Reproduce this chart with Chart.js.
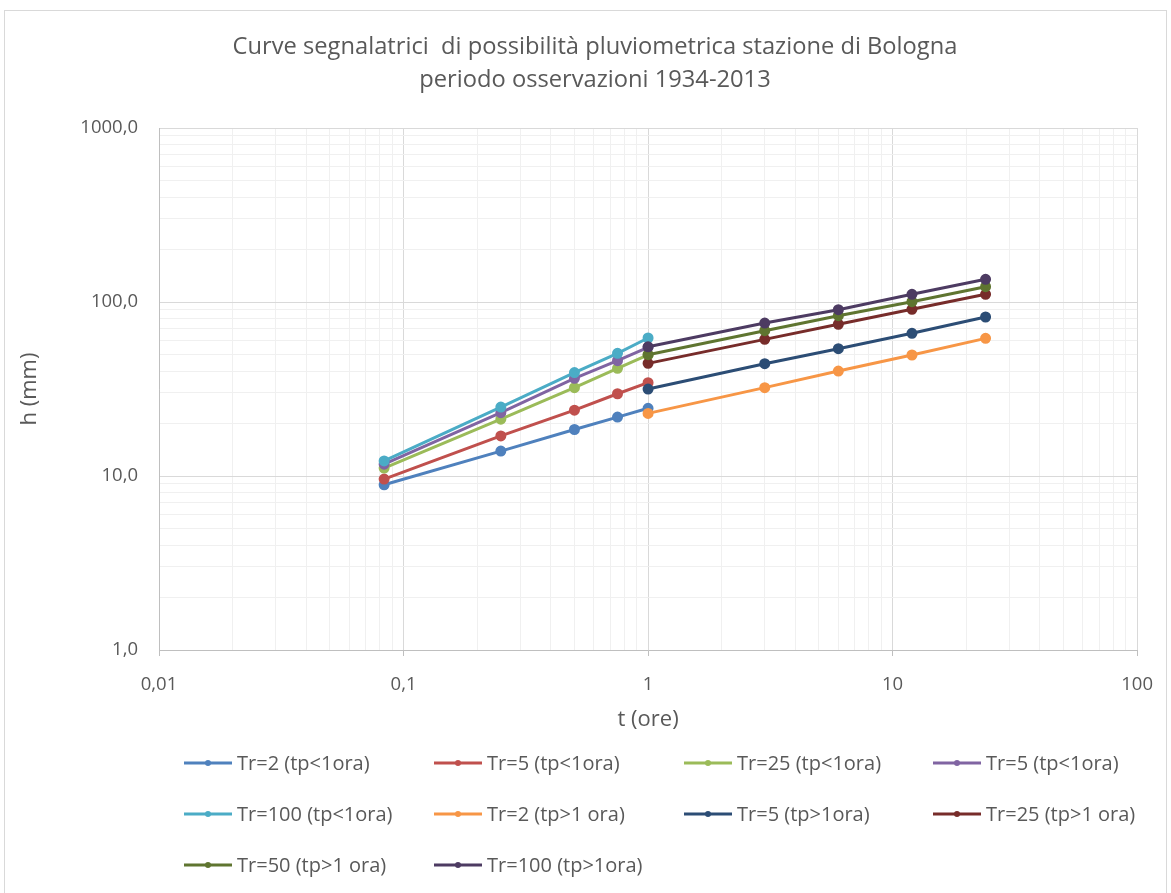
<!DOCTYPE html>
<html>
<head>
<meta charset="utf-8">
<script src="https://cdn.jsdelivr.net/npm/chart.js@4/dist/chart.umd.min.js"></script>
<style>
  html, body { margin: 0; padding: 0; background: #fff; }
  #wrap { width: 1171px; height: 893px; }
</style>
</head>
<body>
<div id="wrap"><canvas id="idfChart" width="1171" height="893"></canvas></div>
<script>
// durations (hours)
const durShort = [0.0833, 0.25, 0.5, 0.75, 1];
const durLong = [1, 3, 6, 12, 24];

// rainfall depth h (mm), tp < 1 ora
const h2Short = [8.9, 13.9, 18.5, 21.8, 24.5];
const h5Short = [9.6, 17.0, 23.9, 29.7, 34.4];
const h25Short = [11.1, 21.2, 32.2, 41.6, 49.6];
const h50Short = [11.7, 23.1, 36.4, 46.0, 54.9];
const h100Short = [12.2, 24.9, 39.3, 50.7, 62.1];

// rainfall depth h (mm), tp > 1 ora
const h2Long = [22.9, 32.2, 40.1, 49.6, 61.8];
const h5Long = [31.6, 44.2, 53.9, 66.1, 82.0];
const h25Long = [44.4, 61.0, 74.5, 90.8, 110.7];
const h50Long = [49.8, 68.4, 83.4, 100.4, 122.5];
const h100Long = [55.3, 75.7, 90.3, 110.7, 135.0];

const seriesLabels = [
    "Tr=2 (tp<1ora)", "Tr=5 (tp<1ora)", "Tr=25 (tp<1ora)", "Tr=5 (tp<1ora)",
    "Tr=100 (tp<1ora)", "Tr=2 (tp>1 ora)", "Tr=5 (tp>1ora)", "Tr=25 (tp>1 ora)",
    "Tr=50 (tp>1 ora)", "Tr=100 (tp>1ora)",
];
const seriesValues = [h2Short, h5Short, h25Short, h50Short, h100Short, h2Long, h5Long, h25Long, h50Long, h100Long];
const seriesDurations = [durShort, durShort, durShort, durShort, durShort, durLong, durLong, durLong, durLong, durLong];
const seriesColors = ["#4f81bd", "#c0504d", "#9bbb59", "#8064a2", "#4bacc6", "#f79646", "#2c4d75", "#772c2a", "#5f7530", "#4d3b62"];

const xTicks = [0.01, 0.1, 1, 10, 100];
const yTicks = [1, 10, 100, 1000];

const FONT = "'Open Sans', 'Noto Sans', sans-serif";
const TEXT = "#595959";

const isDecade = (v) => Math.abs(Math.log10(v) - Math.round(Math.log10(v))) < 1e-6;
const keepIntegerMantissa = (scale) => {
    scale.ticks = scale.ticks.filter((t) => {
        const m = t.value / Math.pow(10, Math.floor(Math.log10(t.value) + 1e-9));
        return Math.abs(m - Math.round(m)) < 1e-6;
    });
};

const datasets = seriesValues.map((vals, i) => ({
    label: seriesLabels[i],
    data: vals.map((h, j) => ({ x: seriesDurations[i][j], y: h })),
    borderColor: seriesColors[i],
    backgroundColor: seriesColors[i],
    borderWidth: 3,
    pointRadius: 4,
    pointHoverRadius: 4,
    order: seriesValues.length - i,
}));

// white background + light frame around the chart
const frame = {
    id: "frame",
    beforeDraw(chart) {
        const c = chart.ctx;
        c.save();
        c.fillStyle = "#fff";
        c.fillRect(0, 0, chart.width, chart.height);
        c.strokeStyle = "#d9d9d9";
        c.lineWidth = 1;
        c.strokeRect(4.5, 10.5, 1162, 900);
        c.restore();
    },
};

// Excel-like grid legend
const gridLegend = {
    id: "gridLegend",
    afterDraw(chart) {
        const c = chart.ctx;
        const cols = [184, 434, 684, 933];
        const rows = [763, 814, 865];
        c.save();
        c.font = "20px " + FONT;
        c.textBaseline = "middle";
        chart.data.datasets.forEach((ds, i) => {
            const x = cols[i % 4];
            const y = rows[Math.floor(i / 4)];
            c.strokeStyle = ds.borderColor;
            c.lineWidth = 3;
            c.beginPath();
            c.moveTo(x, y);
            c.lineTo(x + 48, y);
            c.stroke();
            c.fillStyle = ds.borderColor;
            c.beginPath();
            c.arc(x + 24, y, 3, 0, Math.PI * 2);
            c.fill();
            c.fillStyle = TEXT;
            c.fillText(ds.label, x + 53, y + 1);
        });
        c.restore();
    },
};

new Chart(document.getElementById("idfChart"), {
    type: "line",
    data: { datasets },
    plugins: [frame, gridLegend],
    options: {
        responsive: false,
        animation: false,
        layout: { padding: { left: 19, right: 0, top: 0, bottom: 163 } },
        plugins: {
            legend: { display: false },
            tooltip: { enabled: false },
            title: {
                display: true,
                text: [
                    "Curve segnalatrici  di possibilità pluviometrica stazione di Bologna",
                    "periodo osservazioni 1934-2013",
                ],
                color: TEXT,
                font: { family: FONT, size: 23.7, weight: "normal", lineHeight: 33 / 23.7 },
                padding: { top: 31, bottom: 31 },
            },
        },
        scales: {
            x: {
                type: "logarithmic",
                position: "bottom",
                min: xTicks[0],
                max: xTicks[xTicks.length - 1],
                afterBuildTicks: keepIntegerMantissa,
                afterFit: (s) => { s.height = 80; },
                border: { display: true, color: "#bfbfbf", width: 1 },
                grid: {
                    color: (ctx) => (isDecade(ctx.tick.value) ? "#d9d9d9" : "#f0f0f0"),
                    tickColor: (ctx) => (isDecade(ctx.tick.value) ? "#bfbfbf" : "rgba(0,0,0,0)"),
                    tickLength: 6,
                },
                ticks: {
                    autoSkip: false,
                    maxRotation: 0,
                    padding: 18,
                    color: TEXT,
                    font: { family: FONT, size: 18.5 },
                    callback: (v) => (xTicks.some((t) => Math.abs(t - v) < 1e-9) ? String(v).replace(".", ",") : ""),
                },
                title: {
                    display: true,
                    text: "t (ore)",
                    color: TEXT,
                    font: { family: FONT, size: 22 },
                    padding: { top: 0, bottom: -3 },
                },
            },
            y: {
                type: "logarithmic",
                min: yTicks[0],
                max: yTicks[yTicks.length - 1],
                afterBuildTicks: keepIntegerMantissa,
                afterFit: (s) => { s.width = 140; },
                border: { display: true, color: "#bfbfbf", width: 1 },
                grid: {
                    color: (ctx) => (isDecade(ctx.tick.value) ? "#d9d9d9" : "#f0f0f0"),
                    drawTicks: false,
                },
                ticks: {
                    autoSkip: false,
                    padding: 21,
                    color: TEXT,
                    font: { family: FONT, size: 18.5 },
                    callback: (v) => (yTicks.some((t) => Math.abs(t - v) < 1e-9) ? v.toFixed(1).replace(".", ",") : ""),
                },
                title: {
                    display: true,
                    text: "h (mm)",
                    color: TEXT,
                    font: { family: FONT, size: 22 },
                    padding: { top: -2, bottom: 0 },
                },
            },
            // empty right-hand strip that keeps the plot's right edge clear of the canvas
            spacer: {
                type: "linear",
                position: "right",
                afterFit: (s) => { s.width = 33; },
                grid: { display: false, drawTicks: false },
                border: { display: false },
                ticks: { display: false },
            },
        },
    },
});
</script>
</body>
</html>
